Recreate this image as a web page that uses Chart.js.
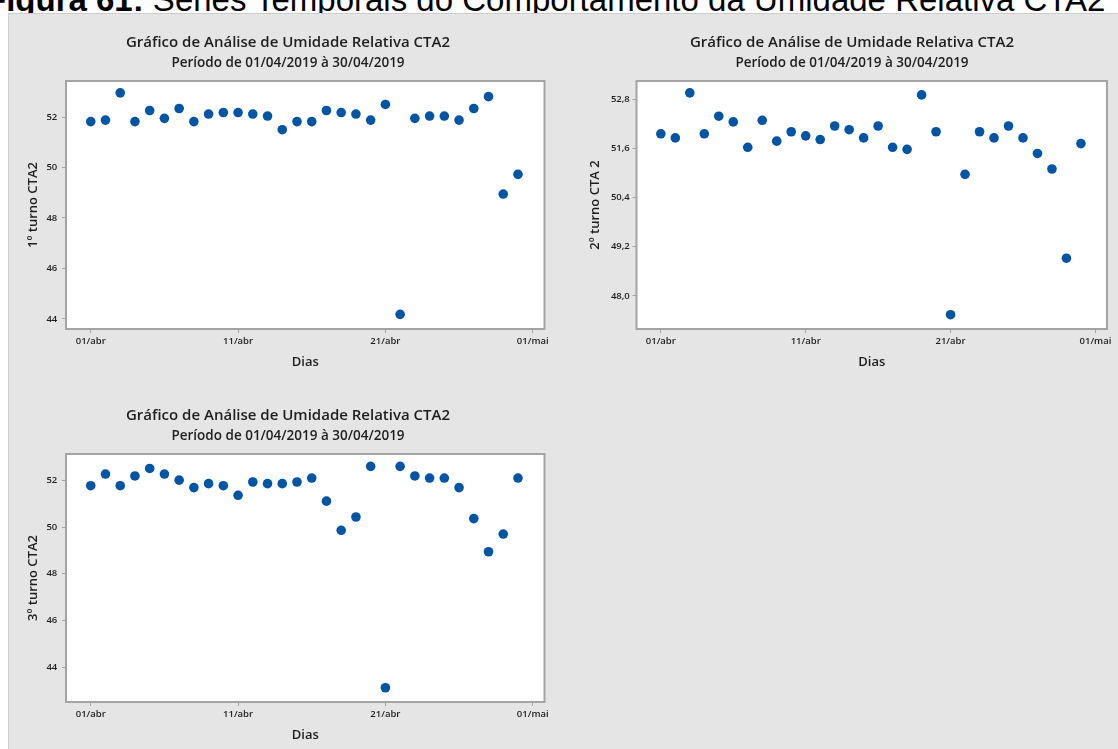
<!DOCTYPE html>
<html lang="pt-BR">
<head>
<meta charset="utf-8">
<title>Umidade Relativa CTA2 - abril/2019</title>
<script src="https://cdn.jsdelivr.net/npm/chart.js@4.4.1/dist/chart.umd.min.js"></script>
<style>
  html, body { margin: 0; padding: 0; background: #ffffff; width: 1118px; height: 749px; overflow: hidden; }
  #legenda {
    position: absolute; left: -14px; top: -17px; white-space: nowrap; color: #000;
    font-family: "Liberation Sans", Arial, sans-serif; font-size: 33px; line-height: 33px;
  }
  #painel {
    position: absolute; left: 8px; top: 13px; width: 1130px; height: 760px;
    background: #e5e5e5; border-top: 1px solid #cdcdcd; border-left: 1px solid #cdcdcd;
  }
  canvas { position: absolute; }
</style>
</head>
<body>
<div id="legenda"><b>Figura 61:</b> Séries Temporais do Comportamento da Umidade Relativa CTA2</div>
<div id="painel"></div>
<canvas id="g1" width="560" height="373" style="left:8px;top:13px"></canvas>
<canvas id="g2" width="550" height="373" style="left:577px;top:13px"></canvas>
<canvas id="g3" width="560" height="373" style="left:8px;top:386px"></canvas>
<script>
// Dias de medição (abril/2019)
const dias = ['01/04','02/04','03/04','04/04','05/04','06/04','07/04','08/04','09/04','10/04',
              '11/04','12/04','13/04','14/04','15/04','16/04','17/04','18/04','19/04','20/04',
              '21/04','22/04','23/04','24/04','25/04','26/04','27/04','28/04','29/04','30/04'];

// Umidade relativa (%) por turno
const turno1 = [51.82, 51.88, 52.96, 51.82, 52.26, 51.95, 52.34, 51.82, 52.12, 52.18,
                52.18, 52.12, 52.04, 51.50, 51.82, 51.82, 52.26, 52.18, 52.12, 51.88,
                52.50, 44.18, 51.95, 52.04, 52.04, 51.88, 52.34, 52.81, 48.95, 49.73];
const turno2 = [51.96, 51.86, 52.96, 51.96, 52.39, 52.25, 51.63, 52.29, 51.78, 52.01,
                51.91, 51.82, 52.15, 52.06, 51.86, 52.15, 51.63, 51.58, 52.91, 52.01,
                47.54, 50.97, 52.01, 51.86, 52.15, 51.86, 51.48, 51.10, 48.92, 51.72];
const turno3 = [51.77, 52.27, 51.77, 52.19, 52.51, 52.27, 52.01, 51.69, 51.86, 51.77,
                51.36, 51.93, 51.86, 51.86, 51.93, 52.10, 51.11, 49.86, 50.43, 52.60,
                43.11, 52.60, 52.19, 52.10, 52.10, 51.69, 50.36, 48.94, 49.70, 52.10];

// Rótulos do eixo de datas e dias (desde 01/04) em que ficam
const rotulosX = ['01/abr', '11/abr', '21/abr', '01/mai'];
const diasRotulosX = [0, 10, 20, 30];

// Marcas do eixo vertical de cada gráfico
const ticksY1 = [44, 46, 48, 50, 52];
const ticksY2 = [48.0, 49.2, 50.4, 51.6, 52.8];
const ticksY3 = [44, 46, 48, 50, 52];

const titulo = 'Gráfico de Análise de Umidade Relativa CTA2';
const subtitulo = 'Período de 01/04/2019 à 30/04/2019';

const FONTE = '"Open Sans", "Noto Sans", sans-serif';
const COR_TEXTO = '#1e1e1e';
const COR_MOLDURA = '#a4a4a4';
const COR_PONTO = '#0054a4';

// dia decorrido desde 01/04 a partir do texto "dd/mm"
const diaDecorrido = d => parseInt(d.slice(0, 2), 10) - 1;

// área de plotagem branca com moldura cinza
const moldura = {
  id: 'moldura',
  beforeDraw(chart) {
    const a = chart.chartArea, ctx = chart.ctx;
    ctx.save();
    ctx.fillStyle = '#ffffff';
    ctx.fillRect(a.left, a.top, a.right - a.left, a.bottom - a.top);
    ctx.restore();
  },
  afterDraw(chart) {
    const a = chart.chartArea, ctx = chart.ctx;
    ctx.save();
    ctx.strokeStyle = COR_MOLDURA;
    ctx.lineWidth = 2;
    ctx.strokeRect(a.left, a.top, a.right - a.left, a.bottom - a.top);
    ctx.restore();
  }
};

function grafico(id, valores, rotuloY, ticksY, minY, maxY, formato, geo) {
  const pontos = dias.map((d, i) => ({ x: diaDecorrido(d), y: valores[i] }));
  return new Chart(document.getElementById(id), {
    type: 'scatter',
    data: {
      datasets: [{
        data: pontos,
        backgroundColor: COR_PONTO,
        borderWidth: 0,
        pointRadius: 4.8,
        pointHoverRadius: 4.8
      }]
    },
    options: {
      responsive: false,
      animation: false,
      events: [],
      layout: { padding: 0 },
      plugins: {
        legend: { display: false },
        tooltip: { enabled: false },
        title: {
          display: true, text: titulo, color: COR_TEXTO,
          font: { family: FONTE, size: 15, weight: '600', lineHeight: '18px' },
          padding: { top: 21, bottom: 0 }
        },
        subtitle: {
          display: true, text: subtitulo, color: COR_TEXTO,
          font: { family: FONTE, size: 13.5, weight: '600', lineHeight: '16px' },
          padding: { top: 3, bottom: 10 }
        }
      },
      scales: {
        x: {
          type: 'linear', position: 'bottom',
          min: -1.68, max: 30.8,
          afterBuildTicks: s => { s.ticks = diasRotulosX.map(v => ({ value: v })); },
          afterFit: s => { s.height = 57; },
          ticks: {
            callback: (v) => rotulosX[diasRotulosX.indexOf(v)],
            color: COR_TEXTO, padding: 2.5, maxRotation: 0, autoSkip: false,
            font: { family: FONTE, size: 9.5, weight: '600', lineHeight: '11px' }
          },
          grid: { display: true, drawOnChartArea: false, drawTicks: true, tickLength: 4, tickColor: COR_MOLDURA, tickWidth: 1 },
          border: { display: false },
          title: {
            display: true, text: 'Dias', color: COR_TEXTO,
            font: { family: FONTE, size: 13, weight: '600', lineHeight: '16px' },
            padding: { top: 0, bottom: 16 }
          }
        },
        y: {
          type: 'linear', position: 'left',
          min: minY, max: maxY,
          afterBuildTicks: s => { s.ticks = ticksY.map(v => ({ value: v })); },
          afterFit: s => { s.width = geo.esquerda; },
          ticks: {
            callback: v => formato(v),
            color: COR_TEXTO, padding: geo.folgaRotulo, autoSkip: false,
            font: { family: FONTE, size: 9.5, weight: '600', lineHeight: '11px' }
          },
          grid: { display: true, drawOnChartArea: false, drawTicks: true, tickLength: 4, tickColor: COR_MOLDURA, tickWidth: 1 },
          border: { display: false },
          title: {
            display: true, text: rotuloY, color: COR_TEXTO,
            font: { family: FONTE, size: 13, weight: '600', lineHeight: '16px' },
            padding: { top: geo.folgaTitulo, bottom: 0 }
          }
        },
        // margem direita da área de plotagem
        margem: {
          type: 'linear', position: 'right', display: true,
          afterFit: s => { s.width = geo.direita; },
          ticks: { display: false },
          grid: { display: false },
          border: { display: false }
        }
      }
    },
    plugins: [moldura]
  });
}

const inteiro = v => String(Math.round(v));
const decimal = v => v.toFixed(1).replace('.', ',');

grafico('g1', turno1, '1º turno CTA2', ticksY1, 43.6, 53.43, inteiro,
        { esquerda: 58, direita: 23.5, folgaRotulo: 4.7, folgaTitulo: 17.5 });
grafico('g2', turno2, '2º turno CTA 2', ticksY2, 47.19, 53.25, decimal,
        { esquerda: 59.5, direita: 20, folgaRotulo: 2.7, folgaTitulo: 10.6 });
grafico('g3', turno3, '3º turno CTA2', ticksY3, 42.5, 53.13, inteiro,
        { esquerda: 58, direita: 23.5, folgaRotulo: 4.7, folgaTitulo: 17.5 });
</script>
</body>
</html>
